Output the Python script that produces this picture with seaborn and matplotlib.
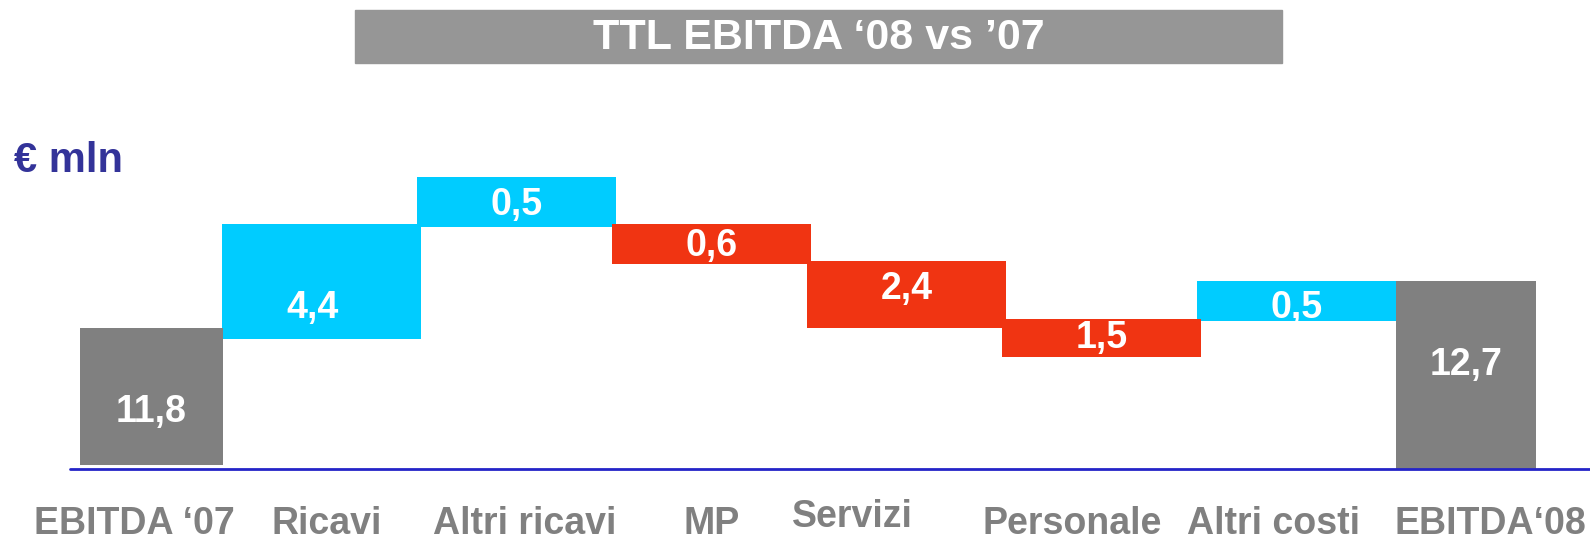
import numpy as np
import pandas as pd
import matplotlib.pyplot as plt
from matplotlib.patches import Rectangle
import seaborn as sns

# ---------------------------------------------------------
# data (valori in € mln, ponte EBITDA '07 -> '08)
# ---------------------------------------------------------
categories = ['EBITDA \u201807', 'Ricavi', 'Altri ricavi', 'MP', 'Servizi',
              'Personale', 'Altri costi', 'EBITDA\u201808']
values = [11.8, 4.4, 0.5, -0.6, -2.4, -1.5, 0.5, 12.7]
# la grafica originale non e' in scala: estremi delle barre
bar_low = [0.4, 13.0, 24.2, 20.5, 14.1, 11.2, 14.8, -0.1]
bar_high = [14.1, 24.5, 29.2, 24.5, 20.8, 15.0, 18.8, 18.8]

# ---------------------------------------------------------
# stile / layout
# ---------------------------------------------------------
sns.set_theme(style='white')
plt.rcParams['font.family'] = ['Liberation Sans', 'DejaVu Sans']

GRAY = '#808080'
CYAN = '#00CCFF'
RED = '#F03412'
TITLE_BG = '#969696'
NAVY = '#333399'
AXIS_BLUE = '#2424C8'

DELTA_W = 1.02
TOT_W = [-0.733, 0.718]        # barre totali agganciate al bordo delle barre vicine
TOT_EDGE = [0.492, 6.508]
label_y = [4.75, 15.1, 25.4, 21.25, 17.0, 12.05, 15.1, 9.4]
label_dx = [0, -0.05, 0, 0, 0, 0, 0, 0]
cat_x = [0.036, 1.026, 2.04, 3.0, 3.72, 4.85, 5.88, 6.99]
cat_y = [-6.45, -6.45, -6.45, -6.5, -5.8, -6.45, -6.45, -6.5]

fig = plt.figure(figsize=(15.9, 5.4), dpi=100)
ax = fig.add_axes([0, 0, 1, 1])

df = pd.DataFrame({'pos': np.arange(len(categories)), 'cat': categories,
                   'value': values, 'low': bar_low, 'high': bar_high})
df['height'] = df['high'] - df['low']
delta = df.iloc[1:-1]

for sign, color in [(1, CYAN), (-1, RED)]:
    sub = delta[np.sign(delta['value']) == sign]
    sns.barplot(data=sub, x='pos', y='height', native_scale=True, width=DELTA_W,
                bottom=sub['low'].values, color=color, saturation=1,
                errorbar=None, linewidth=0, ax=ax)

tot = df.iloc[[0, -1]]
ax.bar(TOT_EDGE, tot['height'], width=TOT_W, bottom=tot['low'], align='edge',
       color=GRAY, linewidth=0)

# etichette valori
centres = [TOT_EDGE[0] + TOT_W[0] / 2] + list(delta['pos']) + [TOT_EDGE[1] + TOT_W[1] / 2]
for x, dx, y, v in zip(centres, label_dx, label_y, values):
    ax.text(x + dx, y, f'{abs(v):.1f}'.replace('.', ','), ha='center', va='baseline',
            color='white', fontsize=27, fontweight='bold')

# etichette categorie
for x, y, c in zip(cat_x, cat_y, categories):
    ax.text(x, y, c, ha='center', va='baseline', color=GRAY,
            fontsize=27, fontweight='bold')

ax.axhline(0, xmin=0.044, xmax=1, color=AXIS_BLUE, linewidth=2, zorder=5)

ax.set_xlim(-0.651, 7.503)
ax.set_ylim(-7.1, 46.9)
ax.set_axis_off()

# titolo nel riquadro grigio
fig.patches.append(Rectangle((0.2233, 0.8833), 0.583, 0.098,
                             transform=fig.transFigure, color=TITLE_BG, zorder=0))
fig.text(0.5148, 0.909, 'TTL EBITDA \u201808 vs \u201907', ha='center', va='baseline',
         color='white', fontsize=31, fontweight='bold')
fig.text(0.0088, 0.6815, '\u20ac mln', ha='left', va='baseline', color=NAVY,
         fontsize=30, fontweight='bold')

fig.savefig('out.png', dpi=100)
